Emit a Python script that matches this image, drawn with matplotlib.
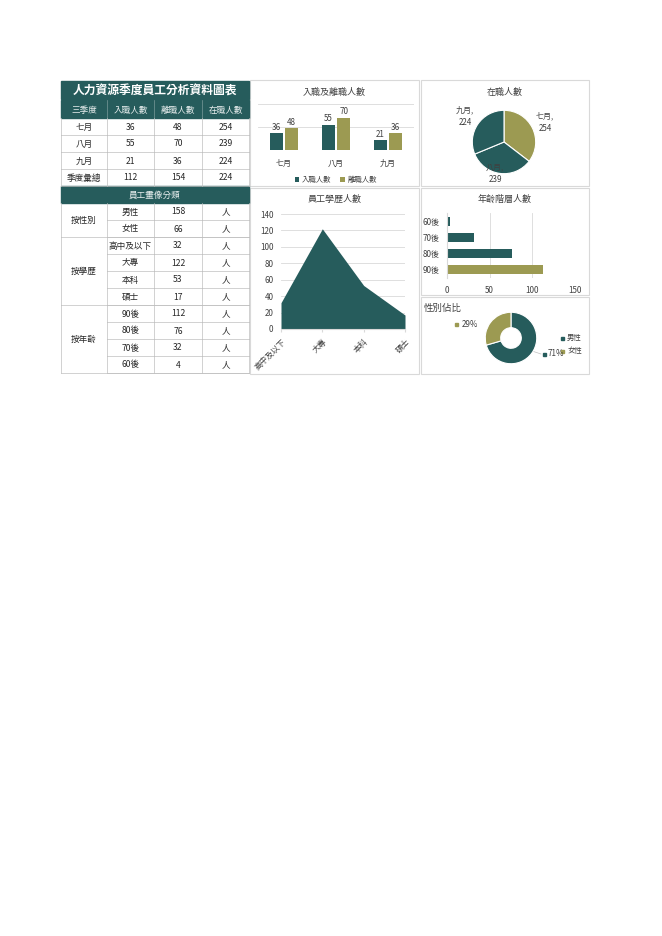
import numpy as np
import matplotlib.pyplot as plt
from matplotlib.patches import Rectangle

plt.rcParams['font.family'] = ['Noto Sans CJK TC', 'DejaVu Sans']

TEAL = '#265C5C'
OLIVE = '#9C9A52'
GRID = '#D9D9D9'
TXT = '#404040'

# data
months = ['七月', '八月', '九月']
hires = [36, 55, 21]
leaves = [48, 70, 36]
staff = [254, 239, 224]
total_row = ['季度彙總', 112, 154, 224]

gender = ['男性', '女性']
gender_n = [158, 66]
edu = ['高中及以下', '大專', '本科', '碩士']
edu_n = [32, 122, 53, 17]
age = ['90後', '80後', '70後', '60後']
age_n = [112, 76, 32, 4]

W, H = 662, 936
fig = plt.figure(figsize=(W / 100, H / 100), dpi=100)


def box(x0, y0, x1, y1):
    return fig.add_axes([x0 / W, 1 - y1 / H, (x1 - x0) / W, (y1 - y0) / H])


def ftext(x, y, s, **kw):
    # text on top of everything, placed in pixel coords
    fig.text(x / W, 1 - y / H, s, **kw)


# overlay in pixel coords for table and panel frames
bg = box(0, 0, W, H)
bg.set_xlim(0, W)
bg.set_ylim(H, 0)
bg.axis('off')

for (x0, y0, x1, y1) in [(250, 80, 419, 186), (421, 80, 589, 186),
                         (250, 188, 419, 374), (421, 188, 589, 295),
                         (421, 297, 589, 374)]:
    bg.add_patch(Rectangle((x0, y0), x1 - x0, y1 - y0, fill=False,
                           ec=GRID, lw=0.8))

cols = [61, 107, 154, 202, 249]
fs = 6.2
LINE = '#BFBFBF'
CELL = '#262626'
VA = 'center_baseline'

# title
bg.add_patch(Rectangle((61, 81), 188, 18, color=TEAL))
bg.text(155, 90, '人力資源季度員工分析資料圖表', color='white', fontsize=8.5,
        fontweight='bold', ha='center', va=VA)
# header
bg.add_patch(Rectangle((61, 100), 188, 17.5, color=TEAL))
hdr = ['三季度', '入職人數', '離職人數', '在職人數']
for i, h in enumerate(hdr):
    bg.text((cols[i] + cols[i + 1]) / 2, 109, h, color='#E8EEEE', fontsize=fs,
            ha='center', va=VA)
    if i > 0:
        bg.plot([cols[i], cols[i]], [100, 117.5], color='#7A9A9A', lw=0.5)

rows = [[months[i], hires[i], leaves[i], staff[i]] for i in range(3)] + [total_row]
y = 117.5
rh = 17
for r in rows:
    for i, v in enumerate(r):
        bg.text((cols[i] + cols[i + 1]) / 2, y + rh / 2, str(v), color=CELL,
                fontsize=fs, ha='center', va=VA)
    for c in cols:
        bg.plot([c, c], [y, y + rh], color=LINE, lw=0.5)
    bg.plot([61, 249], [y + rh, y + rh], color=LINE, lw=0.5)
    y += rh

# section header
bg.add_patch(Rectangle((61, y), 188, rh, color=TEAL))
bg.text(155, y + rh / 2, '員工畫像分類', color='#E8EEEE', fontsize=fs,
        ha='center', va=VA)
y += rh

groups = [('按性別', gender, gender_n), ('按學歷', edu, edu_n), ('按年齡', age, age_n)]
for gname, labs, vals in groups:
    gy = y
    for lab, v in zip(labs, vals):
        for i, t in enumerate([lab, v, '人']):
            bg.text((cols[i + 1] + cols[i + 2]) / 2, y + rh / 2, str(t),
                    color=CELL, fontsize=fs, ha='center', va=VA)
        bg.plot([107, 249], [y + rh, y + rh], color=LINE, lw=0.5)
        for c in cols[1:]:
            bg.plot([c, c], [y, y + rh], color=LINE, lw=0.5)
        y += rh
    bg.plot([61, 61], [gy, y], color=LINE, lw=0.5)
    bg.plot([61, 249], [y, y], color=LINE, lw=0.5)
    bg.text(84, (gy + y) / 2, gname, color=CELL, fontsize=fs,
            ha='center', va=VA)

# bar chart: hires and leaves
ax1 = box(258, 104, 414, 150)
x = np.arange(3)
bw = 0.25
b1 = ax1.bar(x - 0.15, hires, bw, color=TEAL, label='入職人數')
b2 = ax1.bar(x + 0.15, leaves, bw, color=OLIVE, label='離職人數')
for bars in (b1, b2):
    for b in bars:
        ax1.text(b.get_x() + b.get_width() / 2, b.get_height() + 3,
                 str(int(b.get_height())), ha='center', va='bottom',
                 fontsize=5.8, color=TXT)
ax1.set_ylim(0, 100)
ax1.set_xlim(-0.5, 2.5)
ax1.set_yticks([0, 50, 100])
ax1.yaxis.grid(True, color=GRID, lw=0.6)
ax1.set_axisbelow(True)
ax1.tick_params(left=False, labelleft=False, bottom=False, labelsize=5.8,
                labelcolor=TXT, pad=3)
ax1.set_xticks(x, months)
for s in ax1.spines.values():
    s.set_visible(False)
ax1.legend(loc='upper center', bbox_to_anchor=(0.5, -0.42), ncol=2,
           frameon=False, fontsize=5.3, handlelength=0.6, handleheight=0.6,
           columnspacing=1.2, handletextpad=0.4, labelcolor=TXT)
bg.text(334.5, 92, '入職及離職人數', ha='center', va='center', fontsize=6.5,
        color=TXT)

# pie chart
ax2 = box(472, 110, 536, 174)
ax2.pie(staff, colors=[OLIVE, TEAL, TEAL], startangle=90, counterclock=False,
        wedgeprops=dict(ec='white', lw=0.8))
ax2.set_xlim(-1.01, 1.01)
ax2.set_ylim(-1.01, 1.01)
ax2.set_aspect('equal')
bg.text(505, 92, '在職人數', ha='center', va='center', fontsize=6.5, color=TXT)
ftext(545, 122, f'{months[0]},\n{staff[0]}', ha='center', va='center',
      fontsize=5.8, color=TXT, linespacing=1.6)
ftext(495, 173, f'{months[1]},\n{staff[1]}', ha='center', va='center',
      fontsize=5.8, color=TXT, linespacing=1.6)
ftext(465, 116, f'{months[2]},\n{staff[2]}', ha='center', va='center',
      fontsize=5.8, color=TXT, linespacing=1.6)

# area chart: education
ax3 = box(281, 214, 405, 329)
xe = np.arange(len(edu))
ax3.fill_between(xe, edu_n, color=TEAL, lw=0)
ax3.set_xlim(0, 3)
ax3.set_ylim(0, 140)
ax3.set_yticks(range(0, 141, 20))
ax3.yaxis.grid(True, color=GRID, lw=0.6)
ax3.set_axisbelow(True)
ax3.set_xticks(xe, edu, rotation=45, ha='right', rotation_mode='anchor')
ax3.tick_params(left=False, labelsize=5.8, labelcolor=TXT, bottom=True,
                length=2, color=GRID)
for s in ax3.spines.values():
    s.set_visible(False)
ax3.spines['bottom'].set_visible(True)
ax3.spines['bottom'].set_color(GRID)
bg.text(334.5, 199, '員工學歷人數', ha='center', va='center', fontsize=6.5,
        color=TXT)

# horizontal bars: age
ax4 = box(447, 213, 575, 278)
order = age[::-1]
vals = age_n[::-1]
ax4.barh(range(4), vals, 0.55, color=[TEAL, TEAL, TEAL, OLIVE])
ax4.set_yticks(range(4), order)
ax4.set_xlim(0, 150)
ax4.set_ylim(3.5, -0.5)
ax4.set_xticks([0, 50, 100, 150])
ax4.xaxis.grid(True, color=GRID, lw=0.6)
ax4.set_axisbelow(True)
ax4.tick_params(left=False, bottom=False, labelsize=5.8, labelcolor=TXT, pad=2)
for s in ax4.spines.values():
    s.set_visible(False)
ax4.spines['left'].set_visible(True)
ax4.spines['left'].set_color(GRID)
bg.text(505, 199, '年齡階層人數', ha='center', va='center', fontsize=6.5,
        color=TXT)

# donut: gender
ax5 = box(485, 312, 537, 364)
ax5.pie(gender_n, colors=[TEAL, OLIVE], startangle=90, counterclock=False,
        wedgeprops=dict(width=0.6, ec='white', lw=0.8))
ax5.set_xlim(-1.01, 1.01)
ax5.set_ylim(-1.01, 1.01)
ax5.set_aspect('equal')
tot = sum(gender_n)
bg.text(424, 308, '性別佔比', ha='left', va='center', fontsize=6.8, color=TXT)
bg.add_patch(Rectangle((455, 322.5), 3, 3, color=OLIVE))
bg.text(462, 324.5, f'{gender_n[1] / tot:.0%}', ha='left', va='center',
        fontsize=5.8, color=TXT)
bg.add_patch(Rectangle((543, 352.5), 3, 3, color=TEAL))
bg.text(548, 354, f'{gender_n[0] / tot:.0%}', ha='left', va='center',
        fontsize=5.8, color=TXT)
bg.plot([532, 541], [351, 354], color=LINE, lw=0.5)
bg.add_patch(Rectangle((561, 336.5), 3, 3, color=TEAL))
bg.text(567, 338, gender[0], ha='left', va='center', fontsize=5.3, color=TXT)
bg.add_patch(Rectangle((561, 349.5), 3, 3, color=OLIVE))
bg.text(567, 351, gender[1], ha='left', va='center', fontsize=5.3, color=TXT)

fig.savefig('out.png', dpi=100, facecolor='white')
